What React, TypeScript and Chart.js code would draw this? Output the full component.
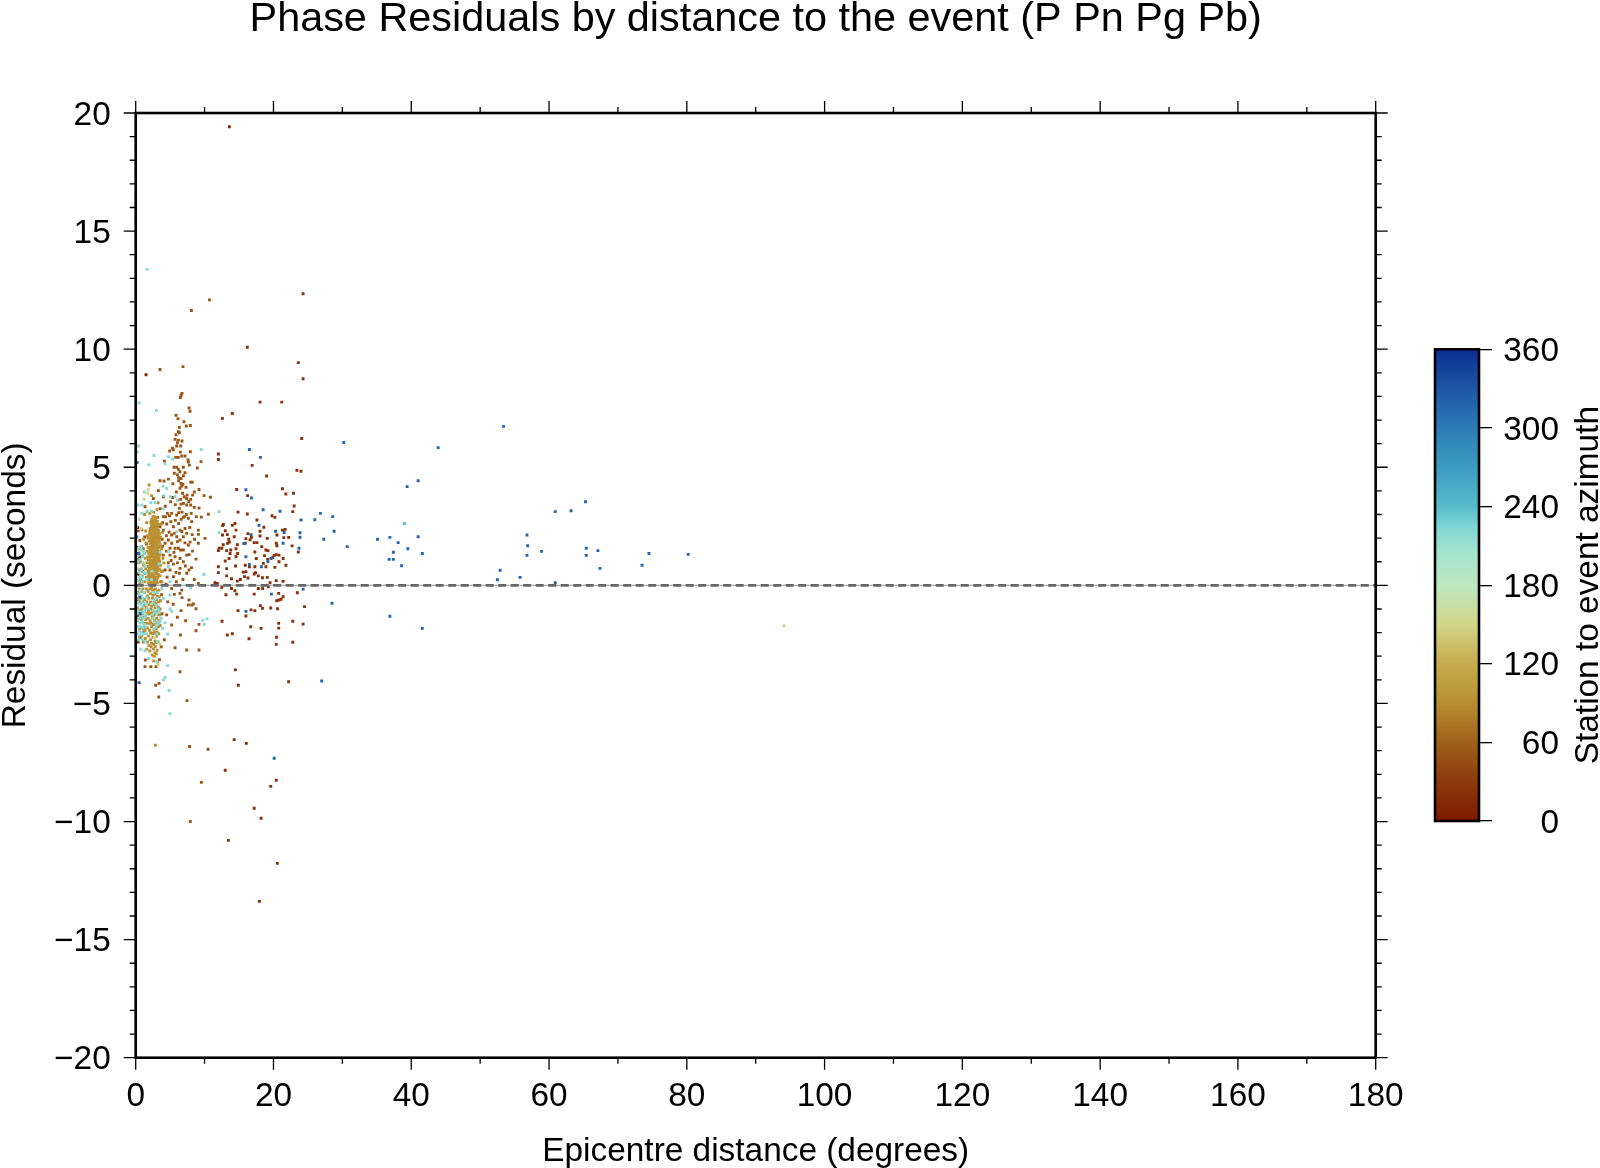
import React, { useEffect, useRef } from "react";
import { Chart, registerables } from "chart.js";
Chart.register(...registerables);

const titleText = "Phase Residuals by distance to the event (P Pn Pg Pb)";
const xLabel = "Epicentre distance (degrees)";
const yLabel = "Residual (seconds)";
const barLabel = "Station to event azimuth";
const zeroLineX = [0, 180];
const zeroLineY = [0, 0];
const azimuthStops = [0, 30, 60, 90, 120, 150, 180, 205, 225, 240, 270, 300, 330, 360];
const azimuthColors = ["#7e1a02", "#8c3a0b", "#a0601a", "#b88f30", "#c6ab4c", "#d2d68a", "#bde8bf", "#a4e4cf", "#7dd6d6", "#56bccb", "#3c9cc2", "#2b7cb6", "#1e56a5", "#0c2f93"];

const farBrownAz = 22;
const farBrown = [[13.6,19.42],[24.3,12.35],[16.2,10.08],[23.6,9.43],[24.3,8.75],[18.05,7.76],[21.2,7.76],[14.03,7.28],[12.58,7.07],[24.1,6.22],[12,5.56],[12,5.33],[16.9,5.08],[23.4,4.87],[24,4.83],[19,4.63],[14.66,4.06],[21.3,4.09],[16.25,3.8],[21.8,3.87],[22.9,3.9],[23,3.36],[22.8,3.12],[14.85,3.1],[16.2,3.02],[19.8,2.95],[20.2,2.88],[17.6,2.77],[12.63,2.53],[12.72,2.58],[14.4,2.62],[14.03,2.54],[18.6,2.46],[13,2.31],[13.3,2.15],[14.56,2.34],[12.6,2.13],[14.3,2.06],[16.3,2.19],[16.8,2.03],[16,1.98],[16.6,1.93],[15.9,1.78],[18.05,2.29],[18.05,2.09],[17.6,1.81],[17.2,1.81],[21.3,2.34],[21.7,2.37],[20.5,2.13],[20.4,1.78],[20.5,1.68],[21.5,2.02],[22.2,2.03],[19.1,1.99],[22.7,1.67],[23.6,1.41],[13.5,1.95],[13.6,1.83],[13.35,1.78],[12.7,1.72],[12.1,1.57],[12,1.47],[12.5,1.57],[14.75,1.72],[14.56,1.55],[14.8,1.35],[13.8,1.5],[13.2,1.47],[13.7,1.35],[14.56,1.21],[18.3,1.64],[18.9,1.5],[19.2,1.47],[18.7,1.26],[17.3,1.41],[17.5,1.14],[20.1,1.27],[20.4,1.3],[20.8,1.28],[19.9,1.19],[21.4,1.14],[20.2,0.76],[21.8,0.85],[20.8,1],[19.16,1.1],[18.53,0.93],[18.9,0.79],[19.1,0.34],[18.4,0.32],[13,1.03],[13.55,1.14],[14.5,0.82],[13.2,0.71],[12,0.79],[12,0.54],[13.2,0.4],[14.75,0.18],[13.9,0.28],[15.2,0.25],[15.8,0.37],[16.3,0.31],[16,0.58],[16.5,0.79],[15.9,0.85],[15.6,0.56],[17.3,0.79],[17.4,0.54],[17.2,0.48],[17.8,0.4],[19.5,0.11],[20.4,0.2],[21.4,0.17],[11.5,0.11],[11.85,0.08],[12.5,-0.08],[13.9,-0.13],[14.4,-0.23],[13.1,-0.4],[14.66,-0.37],[17.2,-0.37],[20.75,-0.34],[21.4,-0.48],[20.8,-0.62],[21.1,-0.59],[20.46,-0.65],[24.5,-0.9],[14.85,-1.07],[16.74,-1.04],[17.3,-1.07],[16,-1.3],[18.1,-0.86],[18.4,-0.97],[19.6,-0.96],[20.6,-0.99],[16.7,-1.75],[18.2,-1.82],[22.8,-1.52],[24.3,-1.64],[20.75,-1.61],[20.75,-1.81],[16.45,-2.26],[20.46,-2.2],[20.4,-2.5],[22.8,-2.41],[14.47,-3.58],[14.9,-4.23],[22.2,-4.08],[14.03,-2.05],[13.3,-2.1],[12.53,-1.52],[18.43,-0.13],[19.25,-0.06],[17.8,-0.13],[23.46,-0.31],[14.3,-6.53],[16.06,-6.69],[13,-7.83],[20.4,-8.25],[19.6,-8.51],[17.2,-9.44],[18.2,-9.86],[13.45,-10.8],[20.56,-11.77],[17.95,-13.38]];

const nearBrownAz = 52;
const nearBrown = [[10.7,12.09],[8.08,11.64],[6.87,9.26],[3.53,9.14],[6.72,8.13],[6.58,8.04],[6.48,7.95],[7.74,7.51],[7.89,7.37],[5.85,7.2],[6.14,7.06],[7,6.93],[7.93,6.77],[7.35,6.75],[6.34,6.69],[6.19,6.51],[6.34,6.46],[5.85,6.38],[5.71,6.18],[6.19,6.15],[6.72,6.11],[6.05,6.04],[5.95,5.9],[6.53,5.9],[5.32,5.81],[4.93,5.69],[5.47,5.74],[7.93,5.66],[6.48,5.64],[5.81,5.42],[6.19,5.42],[6.68,5.48],[4.16,5.26],[7.16,5.48],[7.6,5.31],[7.64,5.22],[9.48,5.24],[5.56,5],[5.95,5],[6.92,5],[7.79,5.09],[8.95,4.97],[6.19,4.91],[6.43,4.81],[7.16,4.77],[6.24,4.56],[6.58,4.52],[6.92,4.64],[4.74,4.5],[7.98,4.37],[8.22,4.37],[3.53,4.43],[4.11,4.42],[6.24,4.43],[6.58,4.32],[6.68,4.21],[9.19,4.06],[8.51,3.95],[8.27,3.82],[6.43,4.11],[7.45,3.82],[7.4,3.68],[9.92,3.8],[10.84,3.73],[4.02,3.75],[3.29,4.01],[7.98,3.64],[6.53,3.64],[6.92,3.47],[6.1,3.61],[7.4,3.4],[7.98,3.4],[9.19,3.27],[5.08,3.54],[6.34,3.26],[6.58,3.44],[6.24,3.08],[10.55,3.01],[7.06,2.91],[6.72,3.1],[5.95,2.98],[7.64,2.84],[8.13,2.7],[8.8,2.91],[9.53,2.89],[4.6,3.05],[5.22,3.05],[4.02,2.91],[3.19,2.88],[1.35,3.33],[2.56,3.68],[6.92,2.88],[6.24,2.62],[7.16,2.41],[6.43,2.34],[5.47,2.48],[4.5,2.6],[4.02,2.34],[3.53,2.48],[5.22,2.13],[5.95,2.06],[6.92,2.06],[7.4,2.2],[9.1,2.34],[9.1,2.16],[10.06,1.99],[9.1,1.78],[7.89,1.83],[7.64,1.71],[6.43,1.92],[5.22,1.78],[4.74,1.92],[4.26,1.78],[4.98,1.57],[5.71,1.57],[6.19,1.57],[6.92,1.5],[7.4,1.28],[6.43,1.14],[6.92,1],[8.76,1.11],[5.71,1.21],[4.02,1.28],[4.98,1.28],[4.74,0.96],[5.47,0.9],[4.26,0.65],[6.43,0.72],[4.98,0.65],[7.74,0.65],[7.4,0.51],[8.51,0.25],[9.1,0.08],[6.34,0.51],[5.47,0.37],[5.61,-0.38],[6.43,-0.34],[6.68,-0.2],[5.22,-0.13],[6.72,-0.52],[7.74,-0.62],[8.37,-0.79],[7.64,-0.83],[8.13,-0.83],[8.76,-0.99],[6.58,-1.07],[5.22,-1.68],[9.19,-1.65],[8.76,-1.92],[5.71,-2.64],[7.4,-2.74],[9.19,-2.74],[6.43,-3.66],[7.45,-4.88],[3.34,-4.73],[2.9,-4.23],[3.39,-4.15],[1.35,-3.44],[2.2,-3.44],[2.95,-3.44],[1.4,-3.16],[7.8,-6.82],[10.5,-6.94],[9.53,-8.34],[7.93,-10],[0.35,2.3],[0.9,2.35],[1.3,2.05],[0.6,1.9],[1.55,1.75],[0.25,1.6],[1.1,1.55],[0.45,0.45],[0.2,-0.6],[1,0.6],[0.3,-1.3],[1.2,-1.85],[0.7,-2.2]];
const nearBrownMore = [[5.6,4.75],[6.05,4.68],[5.4,4.3],[6.85,4.28],[7.3,4.15],[5.9,3.95],[6.8,3.9],[7.05,3.75],[5.35,3.72],[5.75,3.42],[7.7,3.55],[8.5,3.3],[8.05,3.05],[7.35,3],[6.6,2.8],[7.85,2.45],[5.75,2.75],[5.1,2.7],[3.9,2.65],[4.35,2.9],[4.85,2.25],[5.6,2.2],[6.7,2.28],[8.2,2.15],[8.55,1.95],[6.05,1.85],[7.15,1.8],[3.85,1.95],[4.45,2.1],[5.55,1.4],[6.5,1.5],[7.75,1.3],[8.25,1.45],[3.9,1.65],[4.45,1.45],[5.15,1.05],[6.05,0.95],[7.2,0.82],[8.1,0.75],[3.85,0.6],[4.55,0.35],[5.85,0.55],[6.85,0.25],[3.65,0.15],[4.4,0.05],[5.9,0.15],[3.75,-0.4],[4.65,-0.7],[5.45,-0.8],[3.8,-1.2],[4.5,-1.25],[6.05,-1.35],[7.25,-1.5],[4.15,-2.3],[3.7,-2.6],[3.45,-3.15],[6.5,-2.1],[4.9,2.95],[3.55,3.25],[4.3,3.35]];

const darkRedAz = 8;
const darkRed = [[1.5,8.92],[0.3,2.45],[0.55,1.2],[0.25,0.5],[0.4,-0.35],[0.15,-1.1],[1.1,-2],[0.35,-2.4],[0.9,0.15]];

const goldAz = 92;
const gold = [[2.85,-6.77],[2.5,2.92],[2.75,2.9],[3,2.88],[2.35,2.8],[2.6,2.78],[2.9,2.76],[3.15,2.72],[2.2,2.66],[2.45,2.65],[2.7,2.62],[3.05,2.62],[3.3,2.58],[2.3,2.52],[2.55,2.5],[2.85,2.5],[3.15,2.46],[2.1,2.4],[2.4,2.4],[2.7,2.38],[3,2.36],[3.3,2.34],[2.2,2.28],[2.5,2.26],[2.85,2.26],[3.15,2.22],[3.45,2.2],[2,2.14],[2.35,2.14],[2.65,2.12],[2.95,2.12],[3.3,2.08],[2.15,2.02],[2.45,2],[2.8,2],[3.1,1.98],[3.5,1.96],[1.95,1.88],[2.3,1.88],[2.6,1.86],[2.95,1.86],[3.3,1.84],[2.1,1.76],[2.45,1.74],[2.75,1.74],[3.1,1.72],[3.55,1.72],[1.9,1.62],[2.25,1.62],[2.6,1.6],[2.9,1.6],[3.25,1.58],[2.05,1.5],[2.4,1.48],[2.75,1.46],[3.05,1.46],[3.45,1.44],[1.9,1.36],[2.2,1.36],[2.55,1.34],[2.9,1.32],[3.2,1.32],[2.05,1.22],[2.35,1.22],[2.7,1.2],[3.05,1.18],[3.4,1.18],[1.85,1.08],[2.2,1.08],[2.5,1.06],[2.85,1.04],[3.2,1.04],[2,0.94],[2.35,0.94],[2.65,0.92],[3,0.9],[3.3,0.9],[1.8,0.8],[2.15,0.8],[2.5,0.78],[2.8,0.76],[3.1,0.76],[1.95,0.66],[2.3,0.66],[2.6,0.64],[2.95,0.62],[3.25,0.62],[1.75,0.52],[2.1,0.52],[2.45,0.5],[2.75,0.48],[3.05,0.48],[1.9,0.38],[2.25,0.38],[2.55,0.36],[2.9,0.34],[3.2,0.34],[1.7,0.24],[2.05,0.24],[2.4,0.22],[2.7,0.2],[3,0.2],[1.85,0.1],[2.2,0.1],[2.55,0.08],[2.85,0.06],[3.15,0.1],[2.35,2.58],[2.95,2.42],[2.6,2.32],[3.25,2.26],[2.05,2.28],[2.75,2.16],[3.05,2.04],[2.55,1.94],[2.2,1.94],[3.35,1.92],[2.85,1.8],[2.4,1.68],[3.15,1.66],[2.65,1.54],[2.15,1.44],[2.95,1.4],[3.35,1.38],[2.45,1.28],[2.8,1.12],[2.1,1],[3.1,0.98],[2.4,0.86],[2.7,0.7],[2.2,0.58],[3,0.56],[2.5,0.44],[1.95,0.46],[2.8,0.28],[2.3,0.16],[1.6,2.65],[1.45,2.3],[1.7,2.1],[1.5,1.8],[1.65,1.45],[1.4,1.15],[1.6,0.95],[1.45,0.7],[1.55,0.35],[1.3,0.15],[1.15,0.85],[1,1.25],[0.85,1.65],[1.15,1.95],[0.7,1],[0.55,0.65],[0.95,0.4],[0.7,0.25],[0.4,0.95],[0.25,0.2],[0.15,0.7],[0.5,1.55],[0.3,1.1],[1.25,1.35],[1.35,0.5],[0.8,0.7],[0.6,0.1],[3.6,0.85],[3.75,1.55],[3.55,0.4],[3.8,0.15],[4.1,0.95],[3.9,2.25],[3.7,2.6],[3.95,1.15],[0,0.3],[0.1,-0.15],[0.3,-0.3],[0.55,-0.15],[0.8,-0.25],[1.05,-0.15],[1.3,-0.3],[1.55,-0.15],[1.8,-0.25],[2.05,-0.15],[2.3,-0.1],[2.6,-0.2],[2.85,-0.15],[3.1,-0.25],[3.4,-0.2],[0.15,-0.55],[0.45,-0.65],[0.75,-0.55],[1,-0.7],[1.3,-0.6],[1.6,-0.7],[1.9,-0.55],[2.15,-0.7],[2.45,-0.55],[2.7,-0.7],[3,-0.6],[3.35,-0.7],[0.25,-0.95],[0.6,-1.05],[0.9,-1],[1.2,-1.1],[1.5,-0.95],[1.85,-1.1],[2.2,-1],[2.5,-1.1],[2.8,-0.95],[3.15,-1.1],[3.55,-1],[0.4,-1.4],[0.8,-1.45],[1.1,-1.35],[1.45,-1.45],[1.8,-1.4],[2.1,-1.5],[2.4,-1.35],[2.75,-1.5],[3.05,-1.4],[3.4,-1.5],[0.2,-1.75],[0.6,-1.85],[1,-1.8],[1.35,-1.9],[1.7,-1.8],[2,-1.9],[2.3,-1.75],[2.65,-1.9],[2.95,-1.85],[3.3,-1.75],[0.55,-2.2],[1.4,-2.25],[1.85,-2.15],[2.15,-2.3],[2.5,-2.2],[2.8,-2.35],[3.05,-2.15],[2.25,-2.6],[2.55,-2.7],[2.85,-2.6],[3.1,-2.75],[2.4,-2.95],[2.7,-3],[3,-2.9],[3.15,-3.25],[2.6,-3.2],[1.6,-2.7],[1.9,-2.55]];
const goldMore = [[2.15,-0.35],[2.5,-0.42],[2.8,-0.38],[3.15,-0.48],[1.95,-0.82],[2.3,-0.88],[2.62,-0.82],[2.95,-0.78],[3.3,-0.92],[2,-1.22],[2.3,-1.18],[2.65,-1.26],[2.95,-1.2],[3.3,-1.25],[1.95,-1.62],[2.25,-1.6],[2.55,-1.66],[2.85,-1.62],[3.2,-1.58],[2.15,-2.02],[2.45,-2.04],[2.75,-2.02],[3.1,-1.98],[2.3,-2.45],[2.65,-2.5],[2.95,-2.42],[2.05,-2.78],[2.8,-2.85],[2.4,-0.2],[1.7,-0.45],[1.25,-0.85],[0.7,-0.75],[1.65,-1.2],[0.95,-1.2],[1.55,-1.6],[1.15,-1.6],[0.45,-1.05],[0.85,-2.15],[1.1,-2.4],[1.7,-2.4],[3.4,-0.48],[3.6,-0.65],[3.5,-1.25],[3.55,-1.7],[3.35,-2.05],[3.25,-2.4],[2.35,2.72],[2.8,2.68],[2.55,2.42],[3.05,2.5],[2.25,2.42],[2.85,2.08],[3.2,2.14],[2.4,2.06],[2.1,2.16],[3.4,2.02],[2.7,1.9],[2.2,1.8],[3.05,1.82],[3.45,1.82],[2.55,1.68],[2.95,1.7],[3.4,1.62],[2.3,1.55],[2.8,1.55],[3.2,1.5],[2.05,1.38],[2.6,1.42],[3,1.28],[3.55,1.3],[2.25,1.28],[2.65,1.1],[2.05,1.14],[3.35,1.06],[2.45,1],[2.9,0.96],[3.5,1.02],[2.15,0.9],[2.75,0.85],[3.2,0.82],[2.55,0.7],[2,0.74],[3.05,0.68],[3.45,0.7],[2.35,0.52],[2.9,0.5],[3.3,0.45],[2.15,0.3],[2.65,0.28],[3.1,0.3],[2.45,0.14],[2.95,0.12],[1.8,0.62],[1.75,1.2],[1.8,1.6],[1.8,2],[3.6,2.05],[3.75,0.6],[2.05,3.05],[2.6,3.1],[3.1,3.2],[1.3,3],[3.25,3.5],[2.3,3.8],[1.95,4.25]];

const strawAz = 150;
const straw = [[1.8,4.05],[1.75,3.9],[1.2,3.65],[1.7,3.15],[0.5,2.8],[0.8,2.4],[1.25,0.95],[0.6,-0.45],[1.5,-1.25],[2.7,-2.2],[3.25,-3.35],[94.1,-1.71],[3.55,-2.5],[0.45,1.4]];

const cyanAz = 220;
const cyan = [[1.64,13.38],[0.5,7.72],[3,7.4],[0.4,5.9],[0.25,5.65],[9.5,5.75],[2.65,5.5],[1.9,5.1],[4.25,5.15],[4.75,5.45],[5.35,5.35],[4,4.2],[4.5,4.1],[4.1,3.8],[5,3.75],[5.7,3.75],[6.05,3.6],[2.2,3.5],[2.8,3.5],[0.9,3.05],[1.6,3.1],[2.3,3.15],[4,3.25],[12.1,3.13],[12.1,2.24],[5.95,2.27],[4.74,1.43],[4.74,0.8],[4.98,0.16],[7.98,-0.11],[9.9,0.46],[3.8,-0.13],[4,-0.55],[4.98,-0.41],[4.98,-1],[5.22,-1.1],[9.72,-1.48],[10.35,-1.42],[9.92,-1.66],[4.26,-1.58],[3.53,-1.54],[3.9,-1.82],[4.64,-2.06],[3.05,-2.06],[3.14,-2.39],[0.72,-2.71],[1.35,-2.77],[1.84,-3.1],[4.64,-3.4],[4.26,-3.9],[4.02,-4],[4.84,-4.45],[4.98,-5.43],[3.05,-3.23],[0.6,1.35],[0.9,1.5],[0.35,1.25],[1.25,1.35],[0.55,1.6],[1.05,1.2],[1.5,0.5],[0.45,0.55],[0.7,0.4],[1.2,0.55],[0.95,0.15],[0.3,0.2],[1.6,0.25],[2.35,0.6],[2.3,0.25],[3.4,0.9],[3.55,1.4],[0.45,-0.35],[0.85,-0.45],[1.2,-0.3],[1.55,-0.5],[0.6,-0.8],[1,-0.9],[1.35,-0.75],[1.75,-1],[0.4,-1.15],[0.75,-1.25],[1.1,-1.15],[1.45,-1.3],[0.3,-1.5],[0.6,-1.6],[0.95,-1.55],[1.25,-1.65],[0.5,-1.95],[0.85,-2],[1.15,-2.05],[2.75,-0.6],[2.95,-0.85],[2.6,-1.05],[3.05,-1.2],[2.8,-1.55],[3.3,-1.6],[0.35,-2.3],[1.4,-2.4],[2.4,-1.25],[3.2,-0.3]];
const cyanMore = [[0.2,1.55],[0.75,1.65],[1.1,1.45],[0.25,1],[0.65,1.1],[1,0.95],[0.3,0.7],[0.85,0.65],[1.35,0.8],[0.55,0.3],[1.05,0.35],[0.2,-0.15],[0.7,-0.2],[1.05,-0.55],[0.3,-0.75],[0.85,-0.7],[1.55,-0.8],[0.25,-1.05],[0.55,-1.15],[0.95,-1.1],[1.3,-1.05],[0.5,-1.4],[0.85,-1.35],[1.2,-1.4],[0.35,-1.75],[0.7,-1.75],[1.05,-1.8],[1.4,-1.75],[0.25,-2.05],[0.65,-2.1],[1,-2.3],[1.55,-2.05],[2.65,-0.3],[3.05,-0.55],[2.55,-0.75],[2.8,-1.1],[3.25,-1],[2.55,-1.4],[3,-1.7],[2.65,-1.85],[3.4,-1.1],[3.7,-1.4],[0.1,2.5],[0.35,3.4],[0.9,3.4],[1.25,3.95]];

const blueAz = 318;
const blue = [[20.1,-7.32],[0.2,5.2],[0.15,2.05],[0.4,1.35],[0.6,-0.5],[0.65,-1.2],[0.5,-4.12],[16.5,5.75],[18.1,5.42],[16,4.05],[16.8,3.7],[18.5,3.2],[20.95,3.14],[24,2.77],[26,2.78],[26.8,3.05],[28.6,2.91],[28.8,2.29],[27.3,1.95],[30.7,1.64],[17.9,2.54],[16.75,2.15],[15.7,1.77],[20.3,2.29],[21.55,2.24],[23.85,2.23],[23.85,2.04],[21.4,1.78],[23.7,1.57],[16,1.21],[19.65,1.14],[19.2,1],[18.25,0.79],[16.5,0.89],[19.7,-0.37],[24.3,-0.16],[16,-1.1],[28.5,-0.76],[27,-4.05],[30.2,6.05],[43.9,5.83],[53.4,6.73],[41,4.43],[39.4,4.18],[35.1,1.95],[36.9,2.03],[38.1,1.81],[41,2.06],[39.5,1.55],[37.4,1.4],[41.6,1.35],[36.8,1.1],[37.4,1.1],[38.6,0.83],[56.8,2.13],[56.9,1.68],[56.8,1.27],[58.9,1.44],[60.9,3.12],[52.9,0.64],[52.5,0.24],[55.8,0.34],[60.9,0.11],[36.9,-1.31],[41.6,-1.82],[63.2,3.16],[65.3,3.54],[65.4,1.57],[65.4,1.27],[67.1,1.47],[67.4,0.72],[74.5,1.35],[73.5,0.85],[80.2,1.31]];
const paleBlueAz = 245;
const paleBlue = [[39,2.62]];

const xTickStep = 20;
const xMinorStep = 10;
const yTickStep = 5;
const yMinorStep = 1;
const barTickStep = 60;

const FONT = '"Liberation Sans", Arial, sans-serif';
const BOX = { left: 135.7, right: 1375.7, top: 113, bottom: 1057.7 };
const TICK_FONT = 33.4;

function colourFor(az: number) {
  let i = 0;
  while (i < azimuthStops.length - 2 && az > azimuthStops[i + 1]) i++;
  const t = (az - azimuthStops[i]) / (azimuthStops[i + 1] - azimuthStops[i]);
  const a = azimuthColors[i], b = azimuthColors[i + 1];
  const ch = (s: string, p: number) => parseInt(s.slice(p, p + 2), 16);
  const mix = (p: number) => Math.round(ch(a, p) + (ch(b, p) - ch(a, p)) * t);
  return `rgb(${mix(1)},${mix(3)},${mix(5)})`;
}

function points(list: number[][]) {
  return list.map(([x, y]) => ({ x, y }));
}

function scatter(list: number[][], az: number, order: number) {
  const c = colourFor(az);
  return {
    type: "scatter" as const,
    data: points(list),
    backgroundColor: c,
    borderColor: c,
    borderWidth: 0,
    pointStyle: "rect",
    pointRadius: 2.05,
    order,
  };
}

// one empty line above a short line height nudges the digits down onto their tick
const lowered = (text: string) => ["", text];

const framePlugin = {
  id: "frame",
  afterDatasetsDraw(chart: any) {
    const { ctx, chartArea: a, scales } = chart;
    ctx.save();
    ctx.strokeStyle = "#000";
    const tickX = (v: number, len: number, w: number) => {
      const p = scales.x.getPixelForValue(v);
      ctx.lineWidth = w;
      ctx.beginPath();
      ctx.moveTo(p, a.top - len); ctx.lineTo(p, a.top);
      ctx.moveTo(p, a.bottom); ctx.lineTo(p, a.bottom + len);
      ctx.stroke();
    };
    const tickY = (v: number, len: number, w: number) => {
      const p = scales.y.getPixelForValue(v);
      ctx.lineWidth = w;
      ctx.beginPath();
      ctx.moveTo(a.left - len, p); ctx.lineTo(a.left, p);
      ctx.moveTo(a.right, p); ctx.lineTo(a.right + len, p);
      ctx.stroke();
    };
    for (let v = 0; v <= 180; v += xMinorStep) {
      if (v % xTickStep === 0) tickX(v, 12, 1.3); else tickX(v, 6, 1.3);
    }
    for (let v = -20; v <= 20; v += yMinorStep) {
      if (v % yTickStep === 0) tickY(v, 12, 1.3); else tickY(v, 6, 1.3);
    }
    ctx.lineWidth = 2.6;
    ctx.strokeRect(a.left, a.top, a.right - a.left, a.bottom - a.top);
    ctx.restore();
  },
};

const barTitlePlugin = {
  id: "barTitle",
  afterDraw(chart: any) {
    const { ctx, chartArea: a, canvas } = chart;
    ctx.save();
    ctx.fillStyle = "#000";
    ctx.font = `${TICK_FONT}px ${FONT}`;
    ctx.textAlign = "center";
    ctx.textBaseline = "middle";
    ctx.translate(canvas.width - 11, (a.top + a.bottom) / 2);
    ctx.rotate(-Math.PI / 2);
    ctx.fillText(barLabel, 0, 0);
    ctx.restore();
    ctx.save();
    ctx.strokeStyle = "#000";
    ctx.lineWidth = 2.6;
    ctx.strokeRect(a.left, a.top, a.right - a.left, a.bottom - a.top);
    ctx.restore();
  },
};

export default function App() {
  const mainRef = useRef<HTMLCanvasElement>(null);
  const barRef = useRef<HTMLCanvasElement>(null);

  useEffect(() => {
    const main = new Chart(mainRef.current!, {
      type: "scatter",
      data: {
        datasets: [
          { type: "line", data: zeroLineX.map((x, i) => ({ x, y: zeroLineY[i] })), borderColor: "#666", borderWidth: 2.8, borderDash: [8, 4.5], pointRadius: 0, order: 0 },
          { type: "line", data: zeroLineX.map((x, i) => ({ x, y: zeroLineY[i] })), borderColor: "#b0b0b0", borderWidth: 1.4, pointRadius: 0, order: 1 },
          scatter(paleBlue, paleBlueAz, 2),
          scatter(blue, blueAz, 3),
          scatter(cyan, cyanAz, 4),
          scatter(cyanMore, cyanAz, 5),
          scatter(straw, strawAz, 6),
          scatter(gold, goldAz, 7),
          scatter(goldMore, goldAz, 8),
          scatter(darkRed, darkRedAz, 9),
          scatter(nearBrown, nearBrownAz, 10),
          scatter(nearBrownMore, nearBrownAz, 11),
          scatter(farBrown, farBrownAz, 12),
        ] as any,
      },
      options: {
        responsive: false,
        animation: false,
        layout: { padding: 0 },
        plugins: {
          legend: { display: false },
          tooltip: { enabled: false },
          title: { display: true, text: titleText, fullSize: false, color: "#000", padding: { top: 2, bottom: 0 }, font: { family: FONT, size: 41.4, weight: "normal", lineHeight: 0.87 } },
        },
        scales: {
          x: {
            type: "linear", position: "bottom", min: 0, max: 180,
            grid: { display: false }, border: { display: false },
            ticks: { stepSize: xTickStep, color: "#000", maxRotation: 0, autoSkip: false, padding: 11, font: { family: FONT, size: TICK_FONT } },
            title: { display: true, text: xLabel, color: "#000", padding: 0, font: { family: FONT, size: TICK_FONT, lineHeight: 1 } },
            afterFit(s: any) { s.height = 1168 - BOX.bottom; },
          },
          x2: {
            type: "linear", position: "top", min: 0, max: 180,
            grid: { display: false }, border: { display: false }, ticks: { display: false },
            afterFit(s: any) { s.height = BOX.top - 38; },
          },
          y: {
            type: "linear", position: "left", min: -20, max: 20,
            grid: { display: false }, border: { display: false },
            ticks: { stepSize: yTickStep, color: "#000", autoSkip: false, padding: 17, font: { family: FONT, size: TICK_FONT, lineHeight: 0.15 }, callback: (v: any) => lowered(String(v).replace("-", "\u2212")) },
            title: { display: true, text: yLabel, color: "#000", padding: 0, font: { family: FONT, size: TICK_FONT, lineHeight: 0.95 } },
            afterFit(s: any) { s.width = BOX.left; },
          },
          y2: {
            type: "linear", position: "right", min: -20, max: 20,
            grid: { display: false }, border: { display: false }, ticks: { display: false },
            afterFit(s: any) { s.width = 1600 - BOX.right; },
          },
        },
      } as any,
      plugins: [framePlugin],
    });

    const bar = new Chart(barRef.current!, {
      type: "bar",
      data: {
        labels: [barLabel],
        datasets: [
          {
            data: [[0, 360]],
            barPercentage: 1,
            categoryPercentage: 1,
            backgroundColor(ctx: any) {
              const a = ctx.chart.chartArea;
              if (!a) return "#888";
              const g = ctx.chart.ctx.createLinearGradient(0, a.bottom, 0, a.top);
              azimuthStops.forEach((s, i) => g.addColorStop(s / 360, azimuthColors[i]));
              return g;
            },
          },
        ] as any,
      },
      options: {
        responsive: false,
        animation: false,
        layout: { padding: { top: 49.3, bottom: 49, left: 5, right: 41 } },
        plugins: { legend: { display: false }, tooltip: { enabled: false } },
        scales: {
          x: { display: false },
          y: {
            position: "right", min: 0, max: 360,
            grid: { drawOnChartArea: false, drawTicks: true, tickLength: 13, tickColor: "#000", lineWidth: 1.3 },
            border: { display: false },
            ticks: { stepSize: barTickStep, color: "#000", padding: 11, crossAlign: "far", font: { family: FONT, size: TICK_FONT, lineHeight: 0.15 }, callback: (v: any) => lowered(String(v)) },
            afterFit(s: any) { s.width = 80; },
          },
        },
      } as any,
      plugins: [barTitlePlugin],
    });

    return () => {
      main.destroy();
      bar.destroy();
    };
  }, []);

  return (
    <div style={{ position: "absolute", left: 0, top: 0, width: 1600, height: 1168, background: "#fff", overflow: "hidden" }}>
      <canvas ref={mainRef} width={1600} height={1168} style={{ position: "absolute", left: 0, top: 0 }} />
      <canvas ref={barRef} width={170} height={570} style={{ position: "absolute", left: 1430, top: 300 }} />
    </div>
  );
}
